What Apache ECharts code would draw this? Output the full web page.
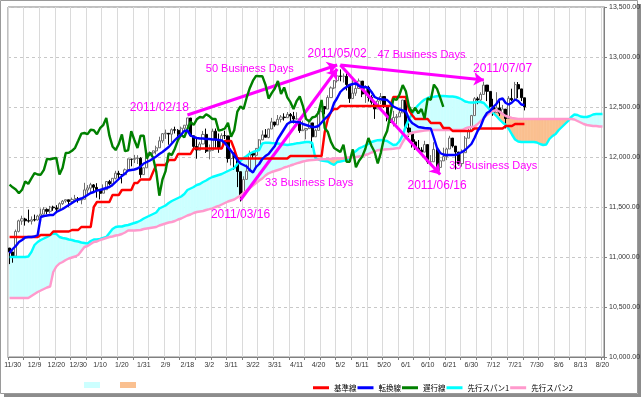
<!DOCTYPE html>
<html><head><meta charset="utf-8">
<script src="https://cdn.jsdelivr.net/npm/echarts/dist/echarts.min.js"></script>
<style>html,body{margin:0;padding:0;background:#fff}#c{width:644px;height:398px}</style>
</head><body><div id="c"></div><script>
// ---- categories (trading days, then 26 forward calendar days for the cloud) ----
const dates = ["11/29","11/30",
"12/1","12/2","12/3","12/6","12/7","12/8","12/9","12/10","12/13","12/14","12/15","12/16","12/17","12/20","12/21","12/22","12/23","12/27","12/28","12/29","12/30","12/31",
"1/3","1/4","1/5","1/6","1/7","1/10","1/11","1/12","1/13","1/14","1/18","1/19","1/20","1/21","1/24","1/25","1/26","1/27","1/28","1/31",
"2/1","2/2","2/3","2/4","2/7","2/8","2/9","2/10","2/11","2/14","2/15","2/16","2/17","2/18","2/22","2/23","2/24","2/25","2/28",
"3/1","3/2","3/3","3/4","3/7","3/8","3/9","3/10","3/11","3/14","3/15","3/16","3/17","3/18","3/21","3/22","3/23","3/24","3/25","3/28","3/29","3/30","3/31",
"4/1","4/4","4/5","4/6","4/7","4/8","4/11","4/12","4/13","4/14","4/15","4/18","4/19","4/20","4/21","4/25","4/26","4/27","4/28","4/29",
"5/2","5/3","5/4","5/5","5/6","5/9","5/10","5/11","5/12","5/13","5/16","5/17","5/18","5/19","5/20","5/23","5/24","5/25","5/26","5/27","5/31",
"6/1","6/2","6/3","6/6","6/7","6/8","6/9","6/10","6/13","6/14","6/15","6/16","6/17","6/20","6/21","6/22","6/23","6/24","6/27","6/28","6/29","6/30",
"7/1","7/5","7/6","7/7","7/8","7/11","7/12","7/13","7/14","7/15","7/18","7/19","7/20","7/21","7/22","7/25","7/26",
"7/27","7/28","7/29","7/30","7/31","8/1","8/2","8/3","8/4","8/5","8/6","8/7","8/8","8/9","8/10","8/11","8/12","8/13","8/14","8/15","8/16","8/17","8/18","8/19","8/20"];

// ---- candles ----
const opens = [11090,11050,11008,11256,11360,11380,11363,11358,11373,11370,
11410,11428,11476,11457,11499,11491,11479,11533,11560,11572,
11556,11576,11584,11569,11577,11670,11688,11721,11696,11673,
11638,11673,11754,11731,11786,11837,11824,11823,11872,11978,
11977,11986,11988,11824,11892,12039,12041,12061,12092,12161,
12232,12237,12228,12273,12267,12226,12287,12318,12390,12212,
12105,12068,12130,12226,12058,12067,12258,12171,12090,12214,
12211,11984,12043,11992,11853,11614,11776,11860,12036,12017,
12087,12171,12221,12195,12280,12350,12321,12377,12399,12393,
12425,12408,12381,12379,12263,12270,12284,12341,12202,12266,
12453,12505,12479,12594,12691,12763,12810,12807,12807,12723,
12584,12638,12685,12759,12630,12696,12596,12548,12480,12561,
12605,12511,12381,12356,12394,12402,12441,12569,12290,12248,
12151,12090,12070,12049,12124,11951,11952,12075,11896,11961,
12004,12080,12189,12109,12050,11934,12043,12188,12262,12414,
12582,12569,12626,12719,12656,12505,12446,12491,12437,12479,
12385,12586,12572,12724,12681,12592];
const closes = [11052,11006,11256,11362,11382,11362,11359,11372,11370,11410,
11429,11477,11457,11499,11492,11478,11533,11559,11573,11555,
11576,11585,11570,11578,11671,11691,11723,11697,11675,11637,
11672,11755,11732,11787,11838,11825,11823,11872,11981,11977,
11985,11990,11824,11892,12040,12042,12062,12092,12162,12233,
12240,12229,12273,12268,12227,12288,12318,12391,12213,12106,
12069,12130,12226,12058,12067,12258,12170,12090,12214,12213,
11985,12044,11993,11855,11613,11775,11859,12037,12019,12086,
12171,12221,12198,12279,12351,12320,12377,12400,12394,12427,
12409,12380,12381,12264,12271,12285,12342,12202,12267,12454,
12506,12480,12595,12691,12763,12811,12807,12808,12724,12584,
12639,12685,12760,12630,12696,12596,12548,12480,12560,12605,
12512,12381,12356,12395,12403,12442,12570,12290,12249,12151,
12090,12071,12049,12124,11952,11953,12076,11897,11962,12004,
12080,12190,12110,12050,11935,12044,12189,12261,12414,12583,
12570,12626,12719,12657,12506,12447,12492,12437,12480,12385,
12587,12572,12724,12681,12593,12501];
const highs = [11090,11050,11274,11373,11413,11392,11474,11406,11424,11422,
11485,11499,11486,11511,11513,11518,11547,11570,11575,11572,
11594,11621,11600,11587,11742,11719,11742,11730,11738,11681,
11726,11756,11771,11788,11862,11862,11825,11885,11984,11982,
12021,12018,11998,11894,12057,12057,12063,12113,12203,12240,
12274,12240,12286,12303,12279,12304,12318,12391,12390,12212,
12180,12151,12260,12284,12125,12283,12285,12235,12237,12263,
12211,12088,12043,11992,11854,11807,11926,12064,12041,12089,
12178,12266,12279,12284,12391,12351,12420,12419,12437,12450,
12440,12451,12447,12379,12364,12291,12375,12342,12281,12484,
12538,12506,12617,12706,12770,12817,12876,12835,12838,12723,
12777,12731,12785,12759,12717,12713,12618,12548,12584,12640,
12605,12511,12440,12462,12429,12470,12571,12569,12337,12248,
12177,12170,12098,12162,12124,12019,12148,12075,12030,12093,
12093,12212,12189,12109,12050,12076,12210,12284,12421,12599,
12602,12647,12753,12719,12656,12582,12648,12565,12521,12479,
12609,12683,12751,12750,12681,12592];
const lows = [10929,10943,11008,11246,11322,11314,11344,11325,11356,11366,
11410,11428,11428,11436,11462,11438,11479,11521,11543,11502,
11544,11575,11544,11527,11577,11622,11648,11654,11593,11576,
11638,11673,11716,11707,11775,11788,11736,11821,11871,11907,
11939,11930,11792,11824,11892,12011,11979,12026,12091,12139,
12181,12123,12145,12235,12201,12226,12268,12303,12203,12070,
11983,12068,12130,12040,11976,12067,12091,12042,12089,12180,
11944,11916,11871,11699,11555,11614,11776,11860,11985,11900,
12085,12170,12195,12187,12279,12303,12320,12346,12364,12393,
12348,12336,12375,12241,12263,12177,12281,12093,12201,12266,
12453,12427,12479,12594,12679,12745,12757,12745,12665,12541,
12584,12611,12685,12599,12541,12555,12525,12381,12480,12530,
12490,12357,12340,12306,12327,12402,12441,12285,12201,12094,
12071,12060,12020,12049,11933,11925,11952,11875,11862,11961,
11969,12080,12094,11875,11915,11904,12043,12188,12262,12414,
12528,12543,12626,12559,12482,12412,12446,12411,12437,12286,
12385,12560,12569,12589,12559,12466];

// ---- ichimoku lines ----
const kijun = [11200,11200,11200,11200,11200,11200,11200,11200,11200,11200,
11220,11220,11220,11220,11255,11255,11255,11255,11255,11255,
11270,11270,11270,11300,11300,11300,11300,11500,11550,11550,
11550,11550,11550,11620,11620,11620,11670,11670,11670,11670,
11740,11740,11775,11775,11775,11775,11850,11920,11920,11920,
11920,11970,11970,11970,12030,12030,12030,12030,12030,12085,
12085,12085,12085,12085,12085,12085,12085,12085,12085,12160,
12160,12160,12080,11985,11985,11985,11985,11985,11985,11985,
11985,11985,11985,11985,11985,11985,11985,11985,11985,11985,
12010,12010,12010,12010,12010,12010,12010,12010,12010,12010,
12010,12250,12380,12450,12480,12480,12510,12510,12510,12510,
12510,12510,12510,12510,12510,12510,12510,12510,12510,12510,
12510,12510,12510,12600,12600,12600,12600,12600,12470,12420,
12380,12380,12380,12380,12380,12340,12340,12340,12340,12290,
12290,12290,12260,12260,12260,12260,12260,12260,12260,12285,
12285,12285,12285,12285,12285,12285,12285,12285,12285,12310,
12310,12310,12330,12330,12330,12330];
const tenkan = [11040,11080,11110,11150,11170,11195,11200,11200,11205,11220,
11400,11410,11415,11420,11420,11450,11465,11480,11500,11520,
11540,11560,11575,11585,11600,11620,11640,11650,11665,11670,
11680,11690,11700,11720,11750,11780,11810,11835,11865,11870,
11875,11885,11905,11935,11950,11965,11985,12005,12030,12050,
12075,12100,12135,12170,12200,12225,12260,12265,12215,12200,
12190,12185,12185,12180,12180,12175,12175,12170,12165,12140,
12100,12060,12020,11970,11935,11920,11905,11870,11845,11900,
11930,11980,12010,12030,12070,12110,12180,12230,12280,12330,
12350,12355,12350,12345,12330,12320,12310,12300,12300,12310,
12345,12380,12410,12450,12540,12590,12650,12680,12700,12720,
12730,12735,12710,12700,12700,12690,12650,12600,12585,12578,
12575,12570,12540,12505,12490,12475,12465,12455,12380,12340,
12320,12300,12295,12290,12288,12285,12190,12090,12040,12025,
12020,12020,12020,12020,12035,12050,12070,12100,12130,12190,
12260,12310,12390,12440,12460,12500,12530,12575,12585,12540,
12525,12545,12575,12560,12525,12520];
const chikou = [11723,11697,11675,11637,11672,11755,11732,11787,11838,11825,
11823,11872,11981,11977,11985,11990,11824,11892,12040,12042,
12062,12092,12162,12233,12240,12229,12273,12268,12227,12288,
12318,12391,12213,12106,12069,12130,12226,12058,12067,12258,
12170,12090,12214,12213,11985,12044,11993,11855,11613,11775,
11859,12037,12019,12086,12171,12221,12198,12279,12351,12320,
12377,12400,12394,12427,12409,12380,12381,12264,12271,12285,
12342,12202,12267,12454,12506,12480,12595,12691,12763,12811,
12807,12808,12724,12584,12639,12685,12760,12630,12696,12596,
12548,12480,12560,12605,12512,12381,12356,12395,12403,12442,
12570,12290,12249,12151,12090,12071,12049,12124,11952,11953,
12076,11897,11962,12004,12080,12190,12110,12050,11935,12044,
12189,12261,12414,12583,12570,12626,12719,12657,12506,12447,
12492,12437,12480,12385,12587,12572,12724,12681,12593,12501];
const span1 = [11000,11000,11000,11000,11000,11000,11005,11050,11120,11150,
11170,11185,11200,11220,11235,11230,11200,11190,11185,11175,
11170,11160,11155,11145,11140,11135,11160,11175,11175,11180,
11190,11200,11240,11280,11300,11305,11305,11315,11320,11330,
11340,11350,11365,11385,11400,11415,11430,11445,11485,11500,
11515,11540,11560,11575,11590,11605,11630,11670,11685,11700,
11720,11730,11750,11765,11785,11800,11810,11820,11830,11845,
11860,11875,11890,11930,11960,11990,12010,12035,12050,12060,
12070,12135,12143,12143,12140,12138,12135,12130,12125,12120,
12125,12130,12137,12140,12145,12150,12150,12140,11990,11975,
11965,11960,11955,11935,11920,11950,11955,11962,11970,11990,
12037,12060,12087,12100,12115,12130,12150,12160,12168,12170,
12165,12160,12140,12120,12125,12160,12220,12310,12380,12430,
12485,12520,12550,12575,12590,12600,12603,12608,12610,12610,
12608,12605,12605,12600,12590,12575,12555,12548,12545,12545,
12550,12550,12540,12505,12470,12440,12410,12375,12345,12320,
12280,12225,12175,12155,12150,12150,12150,12150,12150,12145,
12130,12120,12125,12180,12210,12230,12270,12300,12330,12360,
12400,12425,12420,12405,12400,12400,12410,12425,12430,12430,
12430];
const span2 = [10590,10590,10590,10590,10590,10590,10590,10610,10630,10650,
10665,10680,10695,10705,10850,10905,10935,10950,10970,10985,
10995,11005,11020,11060,11100,11110,11130,11150,11155,11170,
11180,11190,11200,11205,11215,11220,11230,11245,11265,11265,
11265,11268,11270,11280,11285,11290,11295,11300,11315,11325,
11335,11345,11350,11360,11375,11385,11400,11415,11425,11440,
11450,11455,11460,11470,11478,11487,11500,11510,11525,11540,
11555,11565,11575,11595,11615,11640,11665,11690,11715,11740,
11765,11785,11815,11837,11850,11860,11870,11880,11895,11903,
11915,11925,11937,11945,11955,11962,11968,11970,11972,11975,
11977,11978,11980,11982,11985,11987,11988,11990,11993,11995,
11997,12000,12005,12010,12020,12030,12045,12055,12068,12072,
12075,12078,12080,12083,12087,12090,12150,12200,12230,12240,
12250,12255,12260,12265,12268,12270,12270,12270,12270,12270,
12270,12270,12270,12270,12270,12270,12285,12295,12300,12305,
12330,12360,12390,12420,12445,12460,12470,12455,12430,12410,
12400,12390,12385,12380,12380,12380,12380,12380,12380,12380,
12380,12380,12380,12380,12380,12380,12380,12380,12380,12380,
12380,12375,12360,12345,12330,12320,12315,12310,12310,12305,
12305];

// ---- annotations: [fromDate, fromValue, toDate, toValue] and texts ----
const arrows = [
  ["2/18", 12420, "4/29", 12920],
  ["3/16", 11570, "4/29", 12880],
  ["5/2", 12920, "6/16", 11825],
  ["5/2", 12920, "7/7", 12770]
];
const notes = [
  ["2/7", 12495, "2011/02/18", 12],
  ["3/21", 12880, "50 Business Days", 11],
  ["4/29", 13030, "2011/05/02", 12],
  ["6/8", 13020, "47 Business Days", 11],
  ["7/15", 12880, "2011/07/07", 12],
  ["4/15", 11740, "33 Business Days", 11],
  ["3/16", 11420, "2011/03/16", 12],
  ["6/15", 11710, "2011/06/16", 12],
  ["7/12", 11910, "33 Business Days", 11]
];

const CYAN_FILL = '#ccffff', ORANGE_FILL = '#fac090', MAG = '#ff00ff';
const FONT = '"Liberation Sans", Arial, sans-serif';

const chart = echarts.init(document.getElementById('c'), null, {renderer:'canvas'});

function cloudItem(params, api) {
  const i = api.value(0);
  const a1 = span1[i], b1 = span1[i+1], a2 = span2[i], b2 = span2[i+1];
  const pa1 = api.coord([i, a1]), pb1 = api.coord([i+1, b1]);
  const pa2 = api.coord([i, a2]), pb2 = api.coord([i+1, b2]);
  const d0 = a1 - a2, d1 = b1 - b2;
  const kids = [];
  const poly = (pts, col) => kids.push({type:'polygon', shape:{points:pts},
    style:{fill:col, stroke:col, lineWidth:0.6}});
  if ((d0 >= 0 && d1 >= 0) || (d0 <= 0 && d1 <= 0)) {
    poly([pa1, pb1, pb2, pa2], (d0 + d1) >= 0 ? CYAN_FILL : ORANGE_FILL);
  } else {
    const t = d0 / (d0 - d1);
    const pc = [pa1[0] + (pb1[0]-pa1[0])*t, pa1[1] + (pb1[1]-pa1[1])*t];
    poly([pa1, pc, pa2], d0 > 0 ? CYAN_FILL : ORANGE_FILL);
    poly([pc, pb1, pb2], d1 > 0 ? CYAN_FILL : ORANGE_FILL);
  }
  return {type:'group', children:kids};
}

const lineSeries = (name, data, color, z) => ({
  name, type:'line', data, symbol:'none', z, silent:true, animation:false,
  lineStyle:{color, width:2.4}, itemStyle:{color}
});

const option = {
  animation:false,
  backgroundColor:'#ffffff',
  textStyle:{fontFamily:FONT},
  grid:{left:8, right:40, top:7, bottom:41, show:true, borderColor:'#808080', borderWidth:1, backgroundColor:'#fff', outerBoundsMode:'none'},
  xAxis:{
    type:'category', data:dates, boundaryGap:true,
    axisLine:{show:true, lineStyle:{color:'#808080'}},
    axisTick:{show:true, interval:(i)=> i % 5 === 0, length:3, lineStyle:{color:'#808080'}},
    splitLine:{show:true, interval:(i)=> i % 5 === 0, lineStyle:{color:'#dadada', width:1}},
    axisLabel:{interval:(i)=> i % 7 === 1, fontSize:7, color:'#333', margin:5, fontFamily:FONT}
  },
  yAxis:{
    type:'value', position:'right', min:10000, max:13500, interval:500,
    axisLine:{show:true, lineStyle:{color:'#808080'}},
    axisTick:{show:true, length:3, lineStyle:{color:'#808080'}},
    splitLine:{show:true, lineStyle:{color:'#c8c8c8', type:[3,3]}},
    axisLabel:{fontSize:7, color:'#333', margin:5, fontFamily:FONT,
      formatter:(v)=> v.toLocaleString('en-US',{minimumFractionDigits:2, maximumFractionDigits:2})}
  },
  legend:{
    data:['基準線','転換線','遅行線','先行スパン1','先行スパン2'],
    left:308, top:379, itemWidth:16, itemHeight:3, itemGap:1, icon:'rect',
    textStyle:{fontSize:7.5, color:'#000', fontFamily:'"Noto Sans CJK JP", sans-serif'},
    selectedMode:false
  },
  graphic:[
    {type:'rect', shape:{x:0.5, y:0.5, width:637, height:393}, style:{fill:'none', stroke:'#9a9a9a', lineWidth:1}},
    {type:'rect', shape:{x:638, y:4, width:3, height:393}, style:{fill:'#8c8c8c'}},
    {type:'rect', shape:{x:4, y:394, width:637, height:3}, style:{fill:'#8c8c8c'}},
    {type:'rect', shape:{x:84, y:382, width:16, height:6}, style:{fill:CYAN_FILL}},
    {type:'rect', shape:{x:120, y:382, width:16, height:6}, style:{fill:ORANGE_FILL}}
  ],
  series:[
    {type:'custom', name:'cloud', renderItem:cloudItem, silent:true, z:1,
     data: span1.slice(0, span1.length - 1).map((v, i) => [i, v]), encode:{x:0, y:1}},
    {type:'candlestick', name:'price', z:3, silent:true, barWidth:2.6,
     data: opens.map((o, i) => [o, closes[i], lows[i], highs[i]]),
     itemStyle:{color:'#ffffff', color0:'#000000', borderColor:'#6e6e6e', borderColor0:'#000000', borderWidth:1}},
    lineSeries('先行スパン1', span1, '#00ffff', 4),
    lineSeries('先行スパン2', span2, '#ff99cc', 4),
    lineSeries('基準線', kijun, '#ff0000', 5),
    lineSeries('遅行線', chikou, '#008000', 5),
    Object.assign(lineSeries('転換線', tenkan, '#0000ff', 6), {
      markLine:{silent:true, symbol:['none','arrow'], symbolSize:10, animation:false,
        lineStyle:{color:MAG, width:3, type:'solid'}, label:{show:false},
        emphasis:{disabled:true},
        data: arrows.map(a => [{coord:[a[0], a[1]]}, {coord:[a[2], a[3]]}])},
      markPoint:{silent:true, animation:false, symbol:'circle', symbolSize:1,
        itemStyle:{color:'rgba(0,0,0,0)'},
        data: notes.map(n => ({coord:[n[0], n[1]],
          label:{show:true, position:'inside', formatter:n[2], color:MAG, fontSize:n[3], fontFamily:FONT}}))}
    })
  ]
};
chart.setOption(option);
</script></body></html>
